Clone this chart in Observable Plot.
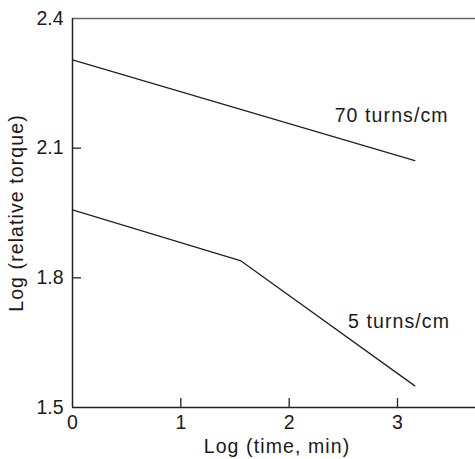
<!DOCTYPE html>
<html>
<head>
<meta charset="utf-8">
<script src="https://cdn.jsdelivr.net/npm/d3@7"></script>
<script src="https://cdn.jsdelivr.net/npm/@observablehq/plot@0.6"></script>
<style>
  html, body { margin: 0; padding: 0; background: #fff; }
  #chart svg { display: block; }
  #chart g[aria-label="text"] text { letter-spacing: 1.1px; }
</style>
</head>
<body>
<div id="chart"></div>
<script>
// Series: x = Log (time, min), y = Log (relative torque)
const series70X = [0, 3.16];
const series70Y = [2.304, 2.071];
const series5X = [0, 1.556, 3.16];
const series5Y = [1.957, 1.839, 1.550];

const seriesNames = ["70 turns/cm", "5 turns/cm"];
const labelX = [2.42, 2.543];
const labelY = [2.175, 1.698];

const xTicks = [0, 1, 2, 3];
const yTicks = [1.5, 1.8, 2.1, 2.4];
const xTitle = "Log (time, min)";
const yTitle = "Log (relative torque)";

const W = 475, H = 459;
const mL = 72, mR = 0, mT = 18, mB = 52;
const plotW = W - mL - mR, plotH = H - mT - mB;

const lines = [
  ...series70X.map((x, i) => ({series: seriesNames[0], x, y: series70Y[i]})),
  ...series5X.map((x, i) => ({series: seriesNames[1], x, y: series5Y[i]}))
];
const labels = seriesNames.map((name, i) => ({name, x: labelX[i], y: labelY[i]}));

const chart = Plot.plot({
  width: W,
  height: H,
  marginLeft: mL,
  marginRight: mR,
  marginTop: mT,
  marginBottom: mB,
  style: {fontFamily: "'Liberation Sans', Arial, sans-serif", fontSize: "19.5px", color: "#1a1a1a", background: "#fff"},
  x: {domain: [0, 3.72]},
  y: {domain: [1.5, 2.4]},
  marks: [
    Plot.axisX({ticks: xTicks, tickSize: 0, tickPadding: 8, tickFormat: d3.format("d"), label: null}),
    Plot.axisY({ticks: yTicks, tickSize: 0, tickPadding: 9, tickFormat: d3.format(".1f"), label: null}),
    Plot.tickY(yTicks.filter(d => d > 1.5 && d < 2.4), {stroke: "#222", strokeWidth: 1.3, insetRight: plotW - 9}),
    Plot.tickX(xTicks.filter(d => d > 0), {stroke: "#222", strokeWidth: 1.3, insetTop: plotH - 9}),
    Plot.ruleY([2.4], {stroke: "#666", strokeWidth: 1.5}),
    Plot.ruleX([0], {stroke: "#222", strokeWidth: 1.5}),
    Plot.ruleY([1.5], {stroke: "#222", strokeWidth: 1.5}),
    Plot.line(lines, {x: "x", y: "y", z: "series", stroke: "#222", strokeWidth: 1.3}),
    Plot.text(labels, {x: "x", y: "y", text: "name", textAnchor: "start", fill: "#1a1a1a", fontSize: 19.5}),
    Plot.text([xTitle], {frameAnchor: "bottom", textAnchor: "middle", lineAnchor: "middle", dy: 39, dx: 3, fill: "#1a1a1a", fontSize: 19.5}),
    Plot.text([yTitle], {frameAnchor: "left", textAnchor: "middle", lineAnchor: "middle", dx: -56, rotate: -90, fill: "#1a1a1a", fontSize: 19.5})
  ]
});
document.getElementById("chart").appendChild(chart);
</script>
</body>
</html>
